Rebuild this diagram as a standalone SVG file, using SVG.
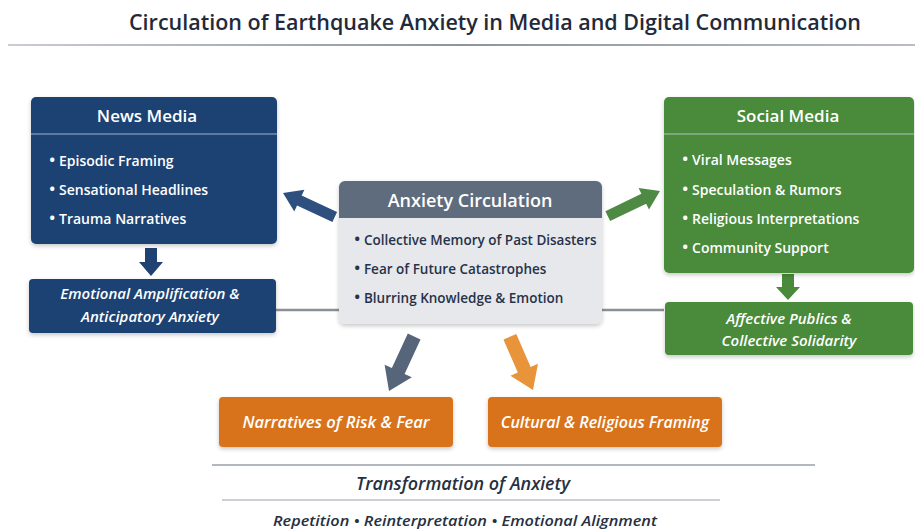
<svg xmlns="http://www.w3.org/2000/svg" width="915" height="531" viewBox="0 0 915 531">
  <defs>
    <linearGradient id="rule" x1="0" x2="1" y1="0" y2="0">
      <stop offset="0" stop-color="#c9ccd2"/>
      <stop offset="0.5" stop-color="#8e949c"/>
      <stop offset="1" stop-color="#b9bdc3"/>
    </linearGradient>
    <filter id="shadow" x="-10%" y="-10%" width="120%" height="130%">
      <feDropShadow dx="0" dy="2" stdDeviation="2" flood-color="#000" flood-opacity="0.22"/>
    </filter>
    <style>
      text { font-family: "Open Sans", "Noto Sans", "Liberation Sans", sans-serif; }
      .title { font-size: 21px; font-weight: 600; fill: #1f2a3a; }
      .hdr { font-size: 17px; font-weight: 600; fill: #ffffff; text-anchor: middle; }
      .item { font-size: 14px; font-weight: 600; fill: #ffffff; }
      .citem { font-size: 13.5px; font-weight: 600; fill: #26324a; }
      .dot { font-size: 17px; }
      .out { font-size: 15px; font-weight: 600; font-style: italic; fill: #ffffff; text-anchor: middle; }
      .navy { fill: #1f4273; }
      .green { fill: #4a8a3b; }
      .orange { fill: #d8731f; }
      .sep { stroke: #c8d0dc; stroke-width: 1.2; opacity: 0.8; }
      .link { stroke: #8a9099; stroke-width: 2.5; fill: none; }
      .foot { font-size: 17.5px; font-style: italic; font-weight: 600; fill: #26303f; text-anchor: middle; }
      .foot2 { font-size: 15px; font-style: italic; font-weight: 600; fill: #26303f; text-anchor: middle; }
    </style>
  </defs>

  <rect width="915" height="531" fill="#ffffff"/>

  <!-- heading -->
  <text class="title" x="495" y="30" text-anchor="middle" textLength="732" lengthAdjust="spacingAndGlyphs">Circulation of Earthquake Anxiety in Media and Digital Communication</text>
  <rect x="8" y="44" width="907" height="2" fill="url(#rule)"/>

  <!-- connectors -->
  <g id="connectors">
    <line class="link" x1="276" y1="310" x2="339" y2="310"/>
    <line class="link" x1="602" y1="310" x2="664" y2="310"/>
    <!-- centre to news media -->
    <polygon fill="#2e507e" transform="translate(283,193) rotate(204.8)" points="0,0 -18,-12 -18,-5.5 -57,-5.5 -57,5.5 -18,5.5 -18,12"/>
    <!-- centre to social media -->
    <polygon fill="#4f8a45" transform="translate(660,191) rotate(-25.7)" points="0,0 -18,-12 -18,-5.5 -58,-5.5 -58,5.5 -18,5.5 -18,12"/>
    <!-- news media to amplification -->
    <polygon fill="#1f4273" transform="translate(151,276) rotate(90)" points="0,0 -14,-12 -14,-6 -28,-6 -28,6 -14,6 -14,12"/>
    <!-- social media to affective publics -->
    <polygon fill="#4a8a3b" transform="translate(788,300) rotate(90)" points="0,0 -13,-12 -13,-6 -26,-6 -26,6 -13,6 -13,12"/>
    <!-- centre to narratives -->
    <polygon fill="#56657a" transform="translate(389,391) rotate(114.8)" points="0,0 -22,-15 -22,-7 -60,-7 -60,7 -22,7 -22,15"/>
    <!-- centre to cultural framing -->
    <polygon fill="#e8943a" transform="translate(533,390) rotate(66.5)" points="0,0 -22,-15 -22,-7 -58,-7 -58,7 -22,7 -22,15"/>
  </g>

  <!-- News Media -->
  <g id="news-media">
    <rect class="navy" x="31" y="97" width="246" height="147" rx="5" filter="url(#shadow)"/>
    <line class="sep" x1="31" y1="134" x2="277" y2="134"/>
    <text class="hdr" x="147" y="122">News Media</text>
    <text class="item" x="49" y="166"><tspan class="dot">•</tspan> Episodic Framing</text>
    <text class="item" x="49" y="195"><tspan class="dot">•</tspan> Sensational Headlines</text>
    <text class="item" x="49" y="224"><tspan class="dot">•</tspan> Trauma Narratives</text>
  </g>

  <g id="emotional-amplification">
    <rect class="navy" x="29" y="279" width="247" height="54" rx="4" filter="url(#shadow)"/>
    <text class="out" x="150" y="299">Emotional Amplification &amp;</text>
    <text class="out" x="150" y="322">Anticipatory Anxiety</text>
  </g>

  <!-- Anxiety Circulation -->
  <g id="anxiety-circulation">
    <rect x="339" y="181" width="263" height="143" rx="6" fill="#e7e8eb" filter="url(#shadow)"/>
    <path d="M345,181 H596 A6,6 0 0 1 602,187 V218 H339 V187 A6,6 0 0 1 345,181 Z" fill="#5e6c7d"/>
    <text class="hdr" x="470" y="207" style="font-size:18px">Anxiety Circulation</text>
    <text class="citem" x="354" y="245"><tspan class="dot">•</tspan> Collective Memory of Past Disasters</text>
    <text class="citem" x="354" y="274"><tspan class="dot">•</tspan> Fear of Future Catastrophes</text>
    <text class="citem" x="354" y="303"><tspan class="dot">•</tspan> Blurring Knowledge &amp; Emotion</text>
  </g>

  <!-- Social Media -->
  <g id="social-media">
    <rect class="green" x="664" y="97" width="250" height="176" rx="5" filter="url(#shadow)"/>
    <line class="sep" x1="664" y1="134" x2="914" y2="134"/>
    <text class="hdr" x="788" y="122">Social Media</text>
    <text class="item" x="682" y="165"><tspan class="dot">•</tspan> Viral Messages</text>
    <text class="item" x="682" y="195"><tspan class="dot">•</tspan> Speculation &amp; Rumors</text>
    <text class="item" x="682" y="224"><tspan class="dot">•</tspan> Religious Interpretations</text>
    <text class="item" x="682" y="253"><tspan class="dot">•</tspan> Community Support</text>
  </g>

  <g id="affective-publics">
    <rect class="green" x="665" y="302" width="248" height="53" rx="4" filter="url(#shadow)"/>
    <text class="out" x="789" y="324">Affective Publics &amp;</text>
    <text class="out" x="789" y="346">Collective Solidarity</text>
  </g>

  <!-- outcomes -->
  <g id="narratives-risk-fear">
    <rect class="orange" x="219" y="397" width="234" height="50" rx="4" filter="url(#shadow)"/>
    <text class="out" x="336" y="428" style="font-size:16.5px">Narratives of Risk &amp; Fear</text>
  </g>

  <g id="cultural-religious-framing">
    <rect class="orange" x="488" y="397" width="234" height="50" rx="4" filter="url(#shadow)"/>
    <text class="out" x="605" y="428" style="font-size:16px">Cultural &amp; Religious Framing</text>
  </g>

  <!-- footer -->
  <g id="transformation">
    <line x1="212" y1="465" x2="815" y2="465" stroke="#9aa0a8" stroke-width="1.5"/>
    <text class="foot" x="463" y="490" textLength="214" lengthAdjust="spacingAndGlyphs">Transformation of Anxiety</text>
    <line x1="222" y1="500" x2="720" y2="500" stroke="#9aa0a8" stroke-width="1.2"/>
    <text class="foot2" x="465" y="526" textLength="384" lengthAdjust="spacingAndGlyphs">Repetition • Reinterpretation • Emotional Alignment</text>
  </g>
</svg>
